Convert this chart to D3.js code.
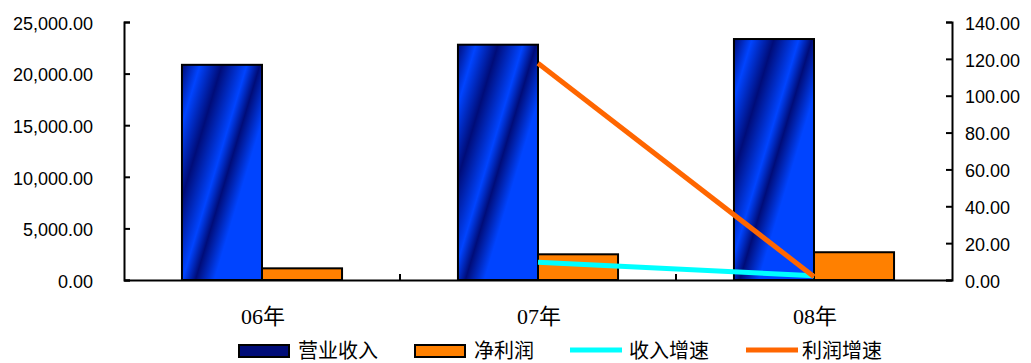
<!DOCTYPE html>
<html><head><meta charset="utf-8">
<script src="https://cdn.jsdelivr.net/npm/d3@7/dist/d3.min.js"></script>
<style>
html,body{margin:0;padding:0;background:#fff;}
svg{display:block;}
</style></head>
<body>
<svg id="c" width="1031" height="363"></svg>
<script>
const categories = ["06年", "07年", "08年"];
const revenue = [20850, 22800, 23350];        // 营业收入
const netProfit = [1130, 2490, 2690];         // 净利润
const revenueGrowth = [null, 9.6, 2.3];       // 收入增速
const profitGrowth = [null, 117.6, 1.8];      // 利润增速
const leftTicks = [0, 5000, 10000, 15000, 20000, 25000];
const rightTicks = [0, 20, 40, 60, 80, 100, 120, 140];
const legendLabels = ["营业收入", "净利润", "收入增速", "利润增速"];

const svg = d3.select("#c");
const L = 124, R = 952, T = 22, B = 280;

const x = d3.scaleBand().domain(categories).range([L, R]).padding(0);
const yL = d3.scaleLinear().domain([0, 25000]).range([B, T]);
const yR = d3.scaleLinear().domain([0, 140]).range([B, T]);
const barW = x.bandwidth() * 0.29;

const defs = svg.append("defs");
const dark = "#000c78", bright = "#0044ff";

// Blue bars with diagonal stripe gradient
revenue.forEach((v, i) => {
  const bx = x(categories[i]) + x.bandwidth() / 2 - barW;
  const by = yL(v);
  const k = 100 / 1.09;
  const g = defs.append("linearGradient")
    .attr("id", "bg" + i)
    .attr("gradientUnits", "userSpaceOnUse")
    .attr("x1", bx).attr("y1", by)
    .attr("x2", bx + k).attr("y2", by + k * 0.3);
  [[0, dark], [0.18, bright], [0.40, dark], [0.65, bright], [0.78, dark], [0.97, bright], [1, bright]]
    .forEach(([o, c]) => g.append("stop").attr("offset", o).attr("stop-color", c));
});

svg.append("g").selectAll("rect").data(revenue).join("rect")
  .attr("x", (d, i) => x(categories[i]) + x.bandwidth() / 2 - barW)
  .attr("y", d => yL(d))
  .attr("width", barW)
  .attr("height", d => B - yL(d))
  .attr("fill", (d, i) => `url(#bg${i})`)
  .attr("stroke", "#000").attr("stroke-width", 2);

svg.append("g").selectAll("rect").data(netProfit).join("rect")
  .attr("x", (d, i) => x(categories[i]) + x.bandwidth() / 2)
  .attr("y", d => yL(d))
  .attr("width", barW)
  .attr("height", d => B - yL(d))
  .attr("fill", "#ff8000")
  .attr("stroke", "#000").attr("stroke-width", 2);

// Lines
const lineGen = d3.line()
  .defined(d => d.v != null)
  .x(d => x(d.c) + x.bandwidth() / 2)
  .y(d => yR(d.v));

svg.append("path")
  .datum(categories.map((c, i) => ({ c, v: revenueGrowth[i] })))
  .attr("d", lineGen).attr("fill", "none")
  .attr("stroke", "#00ffff").attr("stroke-width", 5);

svg.append("path")
  .datum(categories.map((c, i) => ({ c, v: profitGrowth[i] })))
  .attr("d", lineGen).attr("fill", "none")
  .attr("stroke", "#ff6600").attr("stroke-width", 5);

// Axes
const fmtL = d3.format(",.2f");
const fmtR = d3.format(".2f");

const axL = svg.append("g").attr("transform", `translate(${L},0)`)
  .call(d3.axisRight(yL).tickValues(leftTicks).tickSize(6).tickSizeOuter(6).tickFormat(fmtL));
axL.select(".domain").attr("stroke", "#000").attr("stroke-width", 2);
axL.selectAll(".tick line").attr("stroke", "#000").attr("stroke-width", 2);
axL.selectAll(".tick text")
  .attr("x", -31).attr("text-anchor", "end").attr("dy", "0.4em")
  .attr("font-family", "'Liberation Sans', Arial, sans-serif").attr("font-size", 18).attr("fill", "#000");

const axR = svg.append("g").attr("transform", `translate(${R},0)`)
  .call(d3.axisLeft(yR).tickValues(rightTicks).tickSize(6).tickSizeOuter(6).tickFormat(fmtR));
axR.select(".domain").attr("stroke", "#000").attr("stroke-width", 2);
axR.selectAll(".tick line").attr("stroke", "#000").attr("stroke-width", 2);
axR.selectAll(".tick text")
  .attr("x", 13).attr("text-anchor", "start").attr("dy", "0.4em")
  .attr("font-family", "'Liberation Sans', Arial, sans-serif").attr("font-size", 18).attr("fill", "#000");

const axB = svg.append("g").attr("transform", `translate(0,${B})`)
  .call(d3.axisTop(x).tickSize(0).tickSizeOuter(0).tickFormat(""));
axB.select(".domain").attr("stroke", "#000").attr("stroke-width", 2);
// inner category boundary ticks
svg.append("g").selectAll("line").data(categories.slice(1)).join("line")
  .attr("x1", d => x(d)).attr("x2", d => x(d))
  .attr("y1", B - 6).attr("y2", B)
  .attr("stroke", "#000").attr("stroke-width", 2);

svg.append("g").selectAll("text").data(categories).join("text")
  .attr("x", d => x(d) + x.bandwidth() / 2 + 1)
  .attr("y", 324)
  .attr("text-anchor", "middle")
  .attr("font-family", "'Liberation Serif', 'Noto Sans CJK SC', serif")
  .attr("font-size", 22).attr("fill", "#000")
  .text(d => d);

// Legend
const lg = svg.append("g");
const legendX = [239, 415, 570, 746];
const ly = 351;
const lfont = "'Noto Sans CJK SC', sans-serif";
lg.append("rect").attr("x", legendX[0]).attr("y", ly - 6).attr("width", 50).attr("height", 12)
  .attr("fill", "#000c78").attr("stroke", "#000").attr("stroke-width", 2);
lg.append("rect").attr("x", legendX[1]).attr("y", ly - 6).attr("width", 50).attr("height", 12)
  .attr("fill", "#ff8000").attr("stroke", "#000").attr("stroke-width", 2);
lg.append("line").attr("x1", legendX[2]).attr("x2", legendX[2] + 52).attr("y1", ly - 1).attr("y2", ly - 1)
  .attr("stroke", "#00ffff").attr("stroke-width", 5);
lg.append("line").attr("x1", legendX[3]).attr("x2", legendX[3] + 52).attr("y1", ly - 1).attr("y2", ly - 1)
  .attr("stroke", "#ff6600").attr("stroke-width", 5);
const textOff = [59, 59, 59, 56];
legendLabels.forEach((t, i) => {
  lg.append("text").attr("x", legendX[i] + textOff[i]).attr("y", ly + 7)
    .attr("font-family", lfont).attr("font-size", 20).attr("fill", "#000").text(t);
});
</script>
</body></html>
